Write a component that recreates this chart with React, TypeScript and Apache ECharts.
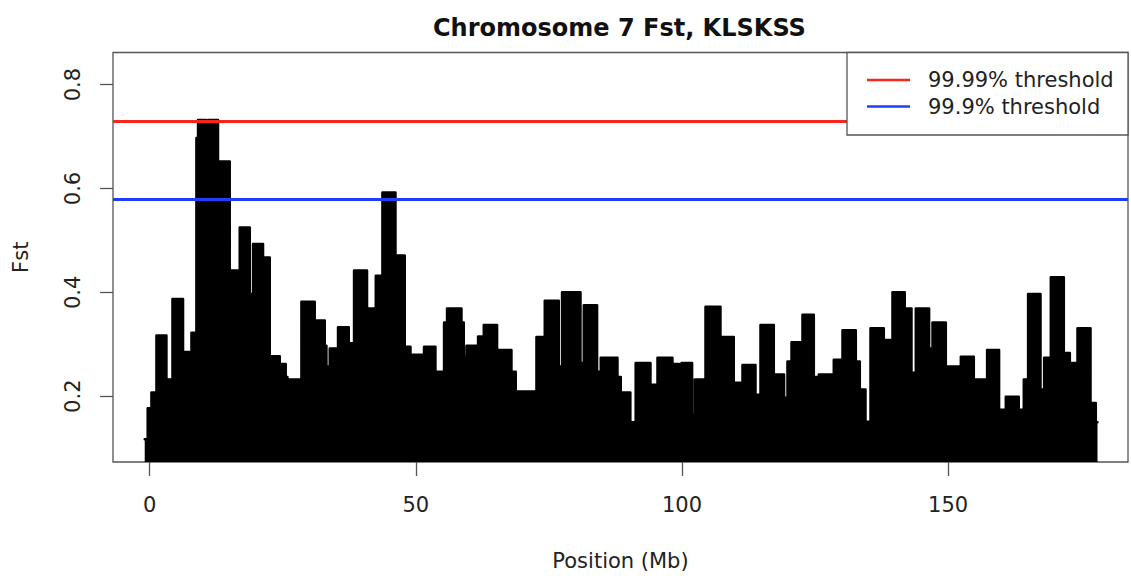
import React, { useEffect, useRef } from "react";
import * as echarts from "echarts";

// Envelope of the Fst scatter: start of each run (Mb) and the top Fst of the run
const positionsMb = [
  -0.94, -0.38, 0.32, 1.26, 3.14, 4.27, 6.26, 7.84, 8.77, 9.08,
  10.65, 11.03, 12.83, 15.03, 16.91, 18.79, 19.41, 21.29, 22.55, 24.43,
  25.55, 25.87, 26.17, 28.5, 31.0, 32.88, 33.2, 33.82, 35.38, 37.39,
  38.39, 40.83, 42.47, 43.72, 46.17, 47.91, 48.99, 51.17, 51.54, 53.68,
  55.3, 55.86, 58.57, 59.0, 59.51, 61.69, 62.76, 65.26, 67.96, 68.77,
  72.66, 74.22, 76.85, 77.47, 80.93, 81.55, 84.05, 84.74, 87.88, 88.5,
  90.3, 91.3, 94.08, 95.4, 98.21, 99.46, 99.91, 101.9, 102.4, 104.42,
  107.23, 109.73, 111.37, 113.81, 114.75, 117.25, 119.18, 119.82, 120.58, 122.64,
  124.77, 125.71, 128.52, 130.16, 132.66, 133.41, 134.48, 135.42, 137.92, 139.55,
  141.86, 143.12, 143.93, 146.43, 147.07, 149.57, 152.39, 154.83, 157.33, 159.58,
  160.84, 163.28, 164.22, 165.03, 167.36, 168.04, 169.3, 171.74, 172.87, 174.31,
  176.76, 177.75, 178.07,
];
const fstValues = [
  0.117, 0.177, 0.207, 0.317, 0.232, 0.387, 0.285, 0.322, 0.697, 0.732,
  0.712, 0.732, 0.652, 0.442, 0.525, 0.397, 0.493, 0.467, 0.277, 0.262,
  0.237, 0.187, 0.232, 0.382, 0.346, 0.297, 0.257, 0.292, 0.333, 0.302,
  0.442, 0.369, 0.432, 0.592, 0.471, 0.295, 0.28, 0.245, 0.295, 0.247,
  0.342, 0.369, 0.342, 0.276, 0.297, 0.315, 0.337, 0.289, 0.247, 0.209,
  0.314, 0.384, 0.257, 0.4, 0.264, 0.375, 0.247, 0.274, 0.237, 0.207,
  0.15, 0.264, 0.222, 0.274, 0.262, 0.242, 0.264, 0.165, 0.232, 0.372,
  0.314, 0.226, 0.26, 0.203, 0.337, 0.242, 0.197, 0.267, 0.304, 0.357,
  0.237, 0.242, 0.27, 0.327, 0.267, 0.213, 0.151, 0.331, 0.308, 0.4,
  0.369, 0.245, 0.369, 0.292, 0.342, 0.257, 0.276, 0.232, 0.289, 0.174,
  0.199, 0.174, 0.232, 0.397, 0.213, 0.274, 0.429, 0.283, 0.264, 0.331,
  0.187, 0.15, 0.15,
];

const thresholdNames = ["99.99% threshold", "99.9% threshold"];
const thresholdValues = [0.7284, 0.5809];
const thresholdColors = ["#f8261a", "#1f3dff"];

const xTicks = [0, 50, 100, 150];
const yTicks = [0.2, 0.4, 0.6, 0.8];

const FONT = "DejaVu Sans";

export default function App() {
  const ref = useRef<HTMLDivElement>(null);

  useEffect(() => {
    document.body.style.margin = "0";
    if (!ref.current) return;
    const chart = echarts.init(ref.current, null, { renderer: "svg" });

    const data = positionsMb.map((x, i) => [x, fstValues[i]]);

    const legendLeft = 847;
    const legendTop = 52.5;
    const rowY = [80, 106.5];

    const option: any = {
      animation: false,
      backgroundColor: "#fff",
      title: {
        text: "Chromosome 7 Fst, KLSKSS",
        left: 433,
        top: 16,
        padding: 0,
        textStyle: {
          fontFamily: FONT,
          fontSize: 24,
          fontWeight: "bold",
          color: "#111",
        },
      },
      grid: {
        left: 113,
        top: 52.5,
        right: 3,
        bottom: 112.5,
        show: true,
        borderColor: "#555",
        borderWidth: 1.3,
        backgroundColor: "transparent",
      },
      xAxis: {
        type: "value",
        min: -6.9,
        max: 183.8,
        name: "Position (Mb)",
        nameLocation: "middle",
        nameGap: 88,
        nameTextStyle: { fontFamily: FONT, fontSize: 21, color: "#222" },
        axisLine: { show: false, onZero: false },
        splitLine: { show: false },
        axisTick: {
          show: true,
          customValues: xTicks,
          length: 14,
          lineStyle: { color: "#555", width: 1.3 },
        },
        axisLabel: {
          customValues: xTicks,
          margin: 32,
          fontFamily: FONT,
          fontSize: 21,
          color: "#222",
          formatter: (v: number) => String(v),
        },
      },
      yAxis: {
        type: "value",
        min: 0.0733,
        max: 0.8618,
        name: "Fst",
        nameLocation: "middle",
        nameRotate: 90,
        nameGap: 82,
        nameTextStyle: { fontFamily: FONT, fontSize: 21, color: "#222" },
        axisLine: { show: false, onZero: false },
        splitLine: { show: false },
        axisTick: {
          show: true,
          customValues: yTicks,
          length: 13,
          lineStyle: { color: "#555", width: 1.3 },
        },
        axisLabel: {
          customValues: yTicks,
          rotate: 90,
          margin: 30,
          fontFamily: FONT,
          fontSize: 21,
          color: "#222",
          formatter: (v: number) => v.toFixed(1),
        },
      },
      series: [
        {
          type: "line",
          name: "Fst",
          data,
          step: "end",
          symbol: "none",
          lineStyle: { color: "#000", width: 2.5, join: "round", cap: "round" },
          areaStyle: { color: "#000", opacity: 1, origin: "start" },
          z: 2,
          markLine: {
            silent: true,
            symbol: ["none", "none"],
            label: { show: false },
            data: thresholdValues.map((v, i) => ({
              yAxis: v,
              name: thresholdNames[i],
              lineStyle: { color: thresholdColors[i], width: 3, type: "solid" },
            })),
          },
        },
      ],
      graphic: [
        {
          type: "group",
          z: 100,
          children: [
            {
              type: "rect",
              shape: { x: legendLeft, y: legendTop, width: 281, height: 82.5 },
              style: { fill: "#fff", stroke: "#555", lineWidth: 1.3 },
              z: 100,
            },
            ...thresholdNames.flatMap((name, i) => [
              {
                type: "line",
                shape: { x1: 867, y1: rowY[i], x2: 910, y2: rowY[i] },
                style: { stroke: thresholdColors[i], lineWidth: 2.5 },
                z: 101,
              },
              {
                type: "text",
                x: 928,
                y: rowY[i],
                style: {
                  text: name,
                  fontFamily: FONT,
                  fontSize: 21,
                  fill: "#222",
                  textVerticalAlign: "middle",
                  verticalAlign: "middle",
                },
                z: 101,
              },
            ]),
          ],
        },
      ],
    };

    chart.setOption(option);
    return () => chart.dispose();
  }, []);

  return <div ref={ref} style={{ width: 1131, height: 576 }} />;
}
